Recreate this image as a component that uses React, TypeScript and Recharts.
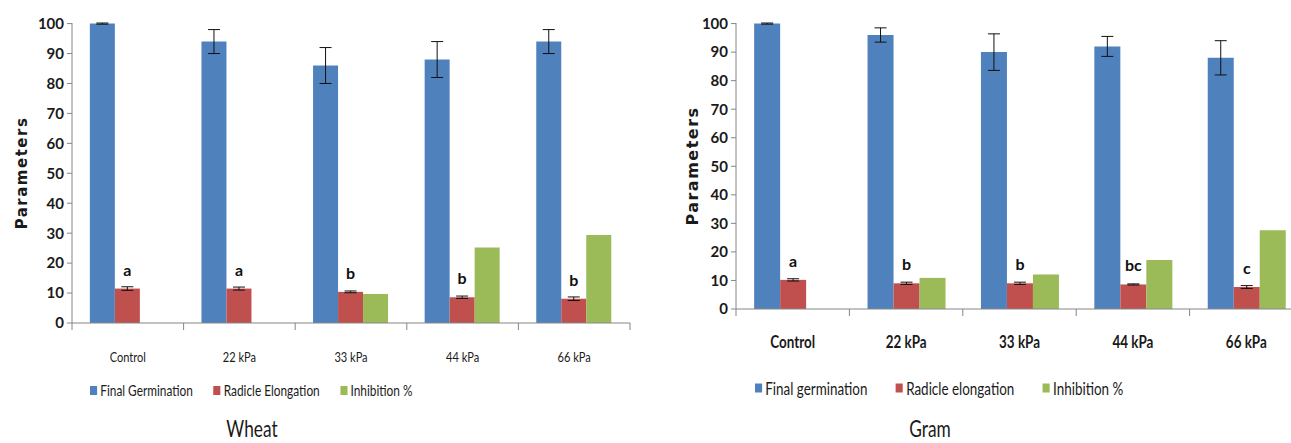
import React from 'react'
import {
  BarChart,
  Bar,
  XAxis,
  YAxis,
  Legend,
  ErrorBar,
  LabelList,
  Label,
} from 'recharts'

const categories = ['Control', '22 kPa', '33 kPa', '44 kPa', '66 kPa']

const wheatGermination = [100, 94, 86, 88, 94]
const wheatGerminationErr = [0.2, 4, 6, 6, 4]
const wheatRadicle = [11.5, 11.5, 10.4, 8.6, 8.1]
const wheatRadicleErr = [0.6, 0.5, 0.3, 0.4, 0.6]
const wheatInhibition = [0, 0, 9.7, 25.2, 29.4]
const wheatLetters = ['a', 'a', 'b', 'b', 'b']

const gramGermination = [100, 96, 90, 92, 88]
const gramGerminationErr = [0.2, 2.5, 6.4, 3.5, 6]
const gramRadicle = [10.2, 9, 9, 8.6, 7.7]
const gramRadicleErr = [0.4, 0.4, 0.4, 0.2, 0.5]
const gramInhibition = [0, 10.9, 12.1, 17.2, 27.6]
const gramLetters = ['a', 'b', 'b', 'bc', 'c']

const yTicks = [0, 10, 20, 30, 40, 50, 60, 70, 80, 90, 100]

const BLUE = '#4F81BD'
const RED = '#C0504D'
const GREEN = '#9BBB59'
const AXIS = '#868686'
const FONT = "Lato, 'Open Sans', sans-serif"
// the source figure is squeezed sideways, so its text is tall and narrow
const SQUEEZE = 0.79

const wheatData = categories.map((name, i) => ({
  name,
  germ: wheatGermination[i],
  germErr: wheatGerminationErr[i],
  rad: wheatRadicle[i],
  radErr: wheatRadicleErr[i],
  inh: wheatInhibition[i],
  letter: wheatLetters[i],
}))

const gramData = categories.map((name, i) => ({
  name,
  germ: gramGermination[i],
  germErr: gramGerminationErr[i],
  rad: gramRadicle[i],
  radErr: gramRadicleErr[i],
  inh: gramInhibition[i],
  letter: gramLetters[i],
}))

type PanelProps = {
  data: typeof wheatData
  left: number
  width: number
  yAxisWidth: number
  marginRight: number
  plotBottom: number
  band: number
  tickFont: number
  tickWeight: string
  tickDy: number
  labelX: number
  labelSize: number
  legendNames: string[]
  legendFont: number
  legendLeft: number
  legendRowY: number
  itemGap: number
  title: string
  titleX: number
  titleY: number
}

function Panel(p: PanelProps) {
  const height = 443
  const xAxisHeight = 50
  const legendHeight = height - p.plotBottom - xAxisHeight

  const renderTick = (props: any) => {
    const { x, y, payload, index } = props
    return (
      <g>
        <line
          x1={x - p.band / 2}
          x2={x - p.band / 2}
          y1={y}
          y2={y + 7}
          stroke={AXIS}
        />
        {index === categories.length - 1 && (
          <line
            x1={x + p.band / 2}
            x2={x + p.band / 2}
            y1={y}
            y2={y + 7}
            stroke={AXIS}
          />
        )}
        <text
          transform={`translate(${x} ${y + p.tickDy}) scale(${SQUEEZE} 1)`}
          textAnchor="middle"
          dominantBaseline="central"
          fontSize={p.tickFont}
          fontWeight={p.tickWeight}
          fontFamily={FONT}
          fill="#1a1a1a"
        >
          {payload.value}
        </text>
      </g>
    )
  }

  const colors = [BLUE, RED, GREEN]

  const renderLegend = () => (
    <div
      style={{
        position: 'relative',
        width: p.width,
        height: legendHeight,
        fontFamily: FONT,
        color: '#1a1a1a',
      }}
    >
      <div
        style={{
          position: 'absolute',
          left: p.legendLeft,
          top: p.legendRowY,
          transform: `translateY(-50%) scaleX(${SQUEEZE})`,
          transformOrigin: 'left center',
          display: 'flex',
          alignItems: 'center',
          whiteSpace: 'nowrap',
          fontSize: p.legendFont,
        }}
      >
        {p.legendNames.map((n, i) => (
          <span
            key={n}
            style={{
              display: 'flex',
              alignItems: 'center',
              marginRight: p.itemGap,
            }}
          >
            <span
              style={{
                display: 'inline-block',
                width: 9,
                height: 9,
                background: colors[i],
                marginRight: 4,
              }}
            />
            {n}
          </span>
        ))}
      </div>
      <div
        style={{
          position: 'absolute',
          left: p.titleX,
          top: p.titleY,
          transform: 'translate(-50%, -50%) scaleX(0.72)',
          fontSize: 24,
          lineHeight: '26px',
          whiteSpace: 'nowrap',
        }}
      >
        {p.title}
      </div>
    </div>
  )

  return (
    <div style={{ position: 'absolute', left: p.left, top: 0 }}>
      <BarChart
        width={p.width}
        height={height}
        data={p.data}
        margin={{ top: 23, right: p.marginRight, left: 0, bottom: 0 }}
        barCategoryGap="16%"
        barGap={0}
      >
        <YAxis
          width={p.yAxisWidth}
          domain={[0, 100]}
          ticks={yTicks}
          interval={0}
          axisLine={{ stroke: AXIS }}
          tickLine={{ stroke: AXIS }}
          tickSize={5}
          tickMargin={3}
          tick={{
            fill: '#1a1a1a',
            fontSize: 15,
            fontWeight: 'bold',
            fontFamily: FONT,
          }}
        >
          <Label
            content={({ viewBox }: any) => {
              const cy = viewBox.y + viewBox.height / 2
              return (
                <text
                  x={p.labelX}
                  y={cy}
                  transform={`rotate(-90 ${p.labelX} ${cy})`}
                  textAnchor="middle"
                  dominantBaseline="central"
                  fontSize={p.labelSize}
                  fontWeight="bold"
                  letterSpacing={1.5}
                  fontFamily="'DejaVu Sans', sans-serif"
                  fill="#1a1a1a"
                >
                  Parameters
                </text>
              )
            }}
          />
        </YAxis>
        <XAxis
          dataKey="name"
          height={xAxisHeight}
          axisLine={{ stroke: AXIS }}
          tickLine={false}
          tickSize={0}
          tickMargin={0}
          interval={0}
          tick={renderTick}
        />
        <Legend
          verticalAlign="bottom"
          height={legendHeight}
          width={p.width}
          wrapperStyle={{ left: 0, bottom: 0 }}
          content={renderLegend}
        />
        <Bar dataKey="germ" fill={BLUE} isAnimationActive={false}>
          <ErrorBar
            dataKey="germErr"
            width={6}
            stroke="#111"
            strokeWidth={1}
          />
        </Bar>
        <Bar dataKey="rad" fill={RED} isAnimationActive={false}>
          <ErrorBar
            dataKey="radErr"
            width={6}
            stroke="#111"
            strokeWidth={1}
          />
          <LabelList
            dataKey="letter"
            position="top"
            offset={13}
            style={{
              fontSize: 16,
              fontWeight: 'bold',
              fontFamily: FONT,
              fill: '#111',
            }}
          />
        </Bar>
        <Bar dataKey="inh" fill={GREEN} isAnimationActive={false} />
      </BarChart>
    </div>
  )
}

export default function App() {
  return (
    <div
      style={{
        position: 'absolute',
        left: 0,
        top: 0,
        width: 1291,
        height: 443,
        overflow: 'hidden',
        background: '#fff',
      }}
    >
      <Panel
        data={wheatData}
        left={0}
        width={650}
        yAxisWidth={72}
        marginRight={20}
        plotBottom={323}
        band={558 / 5}
        tickFont={14}
        tickWeight="normal"
        tickDy={34}
        labelX={22}
        labelSize={15}
        legendNames={[
          'Final Germination',
          'Radicle Elongation',
          'Inhibition %',
        ]}
        legendFont={15}
        legendLeft={90}
        legendRowY={17}
        itemGap={26}
        title="Wheat"
        titleX={252}
        titleY={55}
      />
      <Panel
        data={gramData}
        left={660}
        width={660}
        yAxisWidth={76}
        marginRight={17}
        plotBottom={309}
        band={567 / 5}
        tickFont={17}
        tickWeight="bold"
        tickDy={32}
        labelX={32}
        labelSize={16}
        legendNames={[
          'Final germination',
          'Radicle elongation',
          'Inhibition %',
        ]}
        legendFont={17}
        legendLeft={95}
        legendRowY={29}
        itemGap={36}
        title="Gram"
        titleX={270}
        titleY={69}
      />
    </div>
  )
}
